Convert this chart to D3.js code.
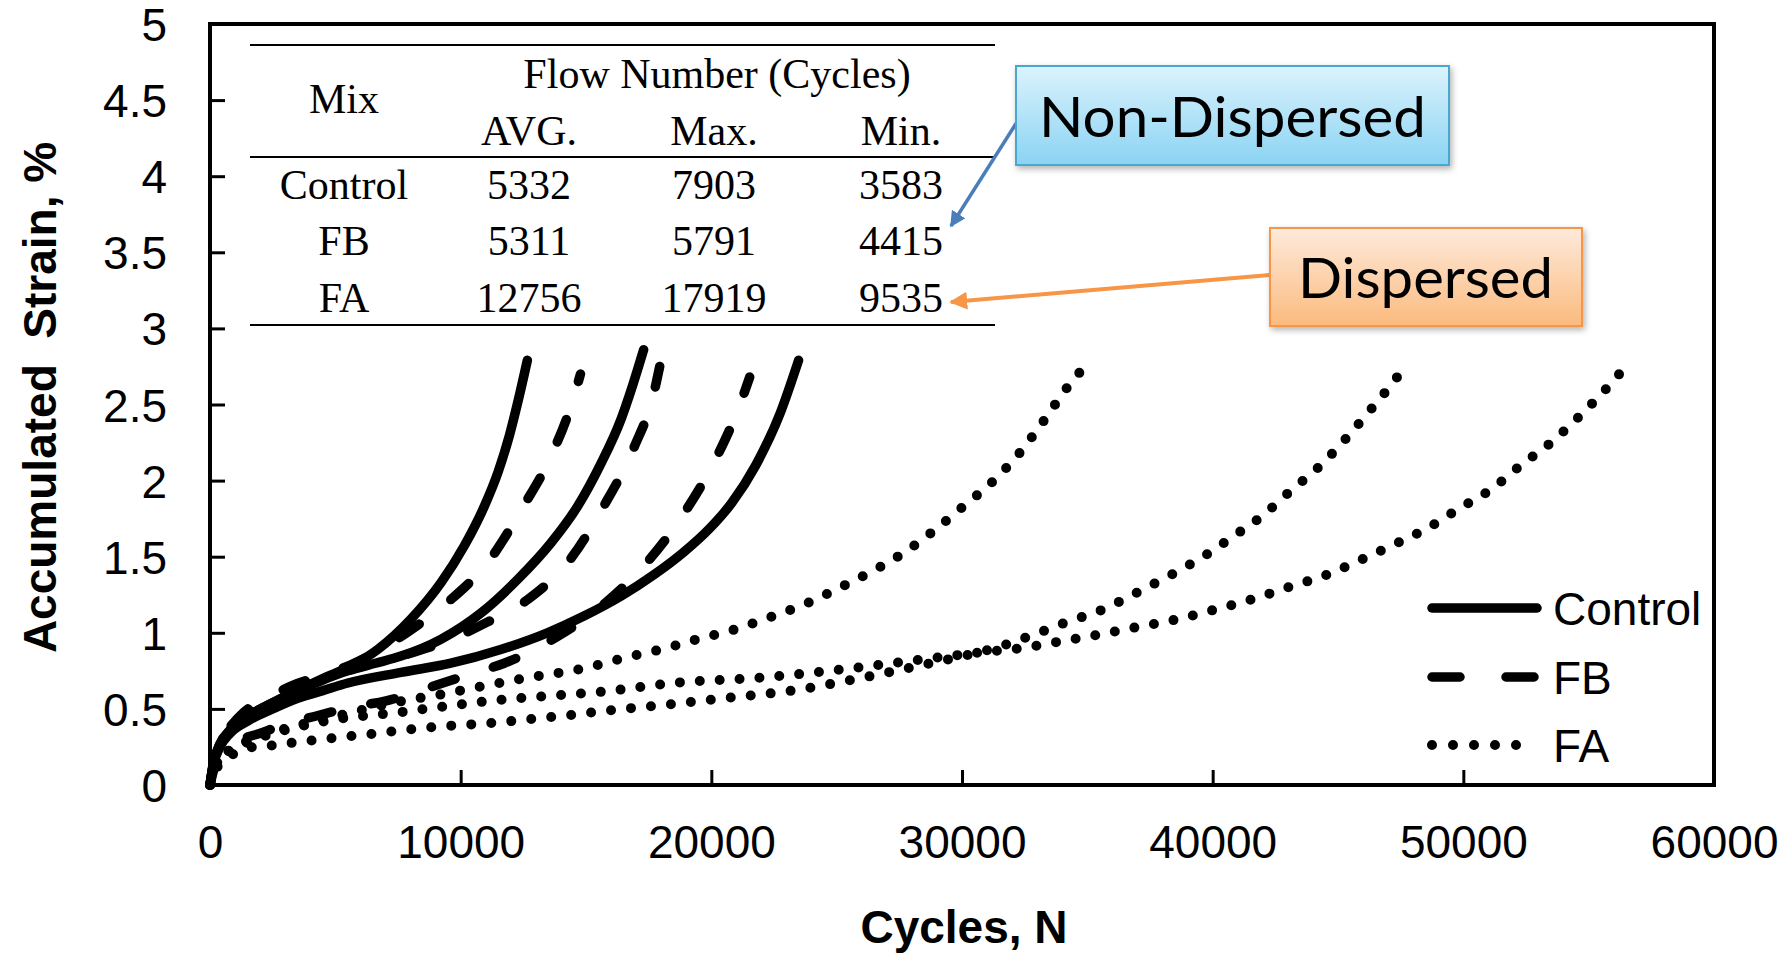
<!DOCTYPE html>
<html>
<head>
<meta charset="utf-8">
<script src="https://cdn.jsdelivr.net/npm/d3@7"></script>
<style>
  html, body { margin: 0; padding: 0; background: #fff; }
  svg { display: block; }
</style>
</head>
<body>
<svg id="chart" width="1792" height="957"></svg>
<script>
// Accumulated permanent strain vs. load cycles for three replicate specimens per mix.
// Each series is a list of [cycles N, accumulated strain %].
const control1 = [[0,0],[150,0.15],[400,0.27],[800,0.36],[1500,0.45],[2500,0.54],[3500,0.62],[4500,0.7],[5620,0.78],[6690,0.89],[8020,1.09],[9220,1.33],[10140,1.57],[10940,1.83],[11500,2.06],[11950,2.3],[12300,2.53],[12660,2.79]];
const control2 = [[0,0],[150,0.15],[400,0.27],[800,0.36],[1500,0.45],[2500,0.54],[3500,0.62],[4500,0.69],[5500,0.75],[6600,0.8],[7620,0.847],[9210,0.957],[10810,1.13],[12270,1.35],[13600,1.59],[14660,1.83],[15590,2.11],[16390,2.4],[16850,2.62],[17300,2.86]];
const control3 = [[0,0],[150,0.14],[400,0.25],[800,0.34],[1500,0.42],[2500,0.5],[3500,0.57],[4500,0.62],[5500,0.67],[7620,0.74],[9610,0.8],[11600,0.89],[13460,1.0],[14920,1.11],[16390,1.24],[17700,1.38],[18900,1.53],[19900,1.68],[20800,1.85],[21770,2.1],[22740,2.44],[23480,2.79]];

const fb1 = [[0,0],[150,0.16],[400,0.28],[800,0.38],[1360,0.48],[2200,0.56],[3230,0.65],[4500,0.72],[5620,0.79],[6800,0.89],[8020,1.02],[9480,1.2],[11160,1.48],[12460,1.82],[13660,2.18],[14440,2.51],[14780,2.7]];
const fb2 = [[0,0],[150,0.15],[400,0.27],[800,0.37],[1400,0.46],[2500,0.56],[3500,0.63],[4500,0.7],[5620,0.76],[7000,0.82],[7880,0.86],[9500,0.95],[11060,1.07],[12690,1.22],[14450,1.5],[15700,1.83],[16920,2.22],[17700,2.57],[17940,2.75]];
const fb3 = [[0,0],[150,0.1],[400,0.17],[960,0.27],[2100,0.345],[3000,0.4],[4160,0.45],[5600,0.51],[7020,0.553],[9410,0.677],[10400,0.73],[11740,0.8],[13800,0.97],[15800,1.2],[17470,1.47],[18970,1.8],[20230,2.16],[21120,2.49],[21530,2.68]];

const fa1 = [[0,0],[100,0.08],[300,0.15],[700,0.22],[1500,0.29],[3000,0.37],[5000,0.45],[6500,0.51],[7950,0.56],[9060,0.59],[10280,0.63],[12500,0.7],[15010,0.77],[16570,0.837],[17970,0.89],[19420,0.957],[20900,1.02],[22300,1.1],[23700,1.186],[25100,1.295],[26360,1.4],[27620,1.52],[28870,1.67],[30050,1.83],[31200,1.99],[32290,2.18],[33250,2.39],[34190,2.61],[34690,2.71]];
const fa2 = [[0,0],[100,0.06],[300,0.12],[900,0.2],[1570,0.245],[2360,0.258],[3160,0.275],[4760,0.306],[6350,0.334],[7950,0.365],[9540,0.389],[11140,0.406],[12730,0.432],[14330,0.459],[15920,0.49],[18390,0.531],[20770,0.575],[23140,0.618],[25380,0.683],[27620,0.76],[29160,0.815],[31310,0.9],[32740,0.98],[34180,1.07],[35570,1.15],[36930,1.26],[38330,1.38],[39620,1.5],[40790,1.63],[41990,1.77],[43090,1.93],[44240,2.09],[45340,2.28],[46350,2.475],[46830,2.57],[47360,2.68]];
const fa3 = [[0,0],[100,0.08],[300,0.14],[700,0.21],[1500,0.28],[3000,0.36],[4950,0.43],[7480,0.476],[9010,0.509],[10610,0.542],[12270,0.57],[13930,0.59],[15460,0.61],[18670,0.673],[22020,0.706],[25240,0.76],[28460,0.826],[30690,0.87],[32380,0.9],[34000,0.946],[35500,0.99],[37060,1.04],[38620,1.09],[40100,1.153],[41560,1.22],[43040,1.3],[44530,1.38],[45870,1.476],[47240,1.58],[48600,1.69],[49870,1.82],[51090,1.94],[52290,2.1],[53460,2.245],[54550,2.41],[55160,2.51],[55740,2.61],[56220,2.7]];

// Axis ticks
const xTicks = [0, 10000, 20000, 30000, 40000, 50000, 60000];
const yTicks = [0, 0.5, 1, 1.5, 2, 2.5, 3, 3.5, 4, 4.5, 5];

// Flow number summary table
const tableMixes = ["Control", "FB", "FA"];
const avgFN = [5332, 5311, 12756];
const maxFN = [7903, 5791, 17919];
const minFN = [3583, 4415, 9535];
const tableCols = ["AVG.", "Max.", "Min."];

// Legend entries
const legendNames = ["Control", "FB", "FA"];

// ---------------------------------------------------------------
const svg = d3.select("#chart");
const plotLeft = 210, plotRight = 1714, plotTop = 24, plotBottom = 785;
const x = d3.scaleLinear().domain([0, 60000]).range([plotLeft, plotRight]);
const y = d3.scaleLinear().domain([0, 5]).range([plotBottom, plotTop]);

const sans = "'Liberation Sans', Arial, sans-serif";
const serif = "'Liberation Serif', 'Times New Roman', serif";

const styles = {
  Control: { dash: null, width: 9.5, cap: "round", legendDash: null },
  FB: { dash: "24 40", width: 9.5, cap: "round", legendDash: "28 46" },
  FA: { dash: "0 20", width: 10, cap: "round", legendDash: "0 21" }
};

const series = [
  { mix: "Control", data: control1 }, { mix: "Control", data: control2 }, { mix: "Control", data: control3 },
  { mix: "FB", data: fb1 }, { mix: "FB", data: fb2 }, { mix: "FB", data: fb3 },
  { mix: "FA", data: fa1 }, { mix: "FA", data: fa2 }, { mix: "FA", data: fa3 }
];

// Drop shadow + gradients for the callout boxes
const defs = svg.append("defs");
const shadow = defs.append("filter").attr("id", "shadow").attr("x", "-10%").attr("y", "-10%").attr("width", "130%").attr("height", "140%");
shadow.append("feDropShadow").attr("dx", 2).attr("dy", 3).attr("stdDeviation", 3).attr("flood-color", "#000").attr("flood-opacity", 0.3);
function grad(id, c1, c2) {
  const g = defs.append("linearGradient").attr("id", id).attr("x1", 0).attr("y1", 0).attr("x2", 0).attr("y2", 1);
  g.append("stop").attr("offset", "0%").attr("stop-color", c1);
  g.append("stop").attr("offset", "100%").attr("stop-color", c2);
}
grad("blueFill", "#dcf3fc", "#8ad3f3");
grad("orangeFill", "#feeadb", "#fbba7e");
function marker(id, color) {
  defs.append("marker").attr("id", id).attr("viewBox", "0 0 10 10").attr("refX", 9).attr("refY", 5)
    .attr("markerWidth", 4.5).attr("markerHeight", 4.5).attr("orient", "auto-start-reverse")
    .attr("markerUnits", "strokeWidth")
    .append("path").attr("d", "M0,0 L10,5 L0,10 Z").attr("fill", color);
}
marker("arrowBlue", "#4a7ebb");
marker("arrowOrange", "#f79646");

// Axes with inward ticks
const xAxis = d3.axisBottom(x).tickValues(xTicks).tickFormat(d => String(d)).tickSize(-15).tickPadding(40);
const yAxis = d3.axisLeft(y).tickValues(yTicks).tickFormat(d => String(d)).tickSize(-15).tickPadding(43);

const gx = svg.append("g").attr("transform", `translate(0,${plotBottom})`).call(xAxis);
const gy = svg.append("g").attr("transform", `translate(${plotLeft},0)`).call(yAxis);
[gx, gy].forEach(g => {
  g.select(".domain").remove();
  g.selectAll(".tick line").attr("stroke", "#000").attr("stroke-width", 3);
  g.selectAll(".tick text").attr("fill", "#000").style("font-family", sans).style("font-size", "46px");
});
gy.selectAll(".tick text").attr("dy", "0.36em");

// Curves
const line = d3.line().x(d => x(d[0])).y(d => y(d[1])).curve(d3.curveMonotoneX);
svg.append("g").selectAll("path").data(series).join("path")
  .attr("d", d => line(d.data))
  .attr("fill", "none")
  .attr("stroke", "#000")
  .attr("stroke-width", d => styles[d.mix].width)
  .attr("stroke-linecap", d => styles[d.mix].cap)
  .attr("stroke-linejoin", "round")
  .attr("stroke-dasharray", d => styles[d.mix].dash)
  .each(function (d) {
    // Round-dot series: spread the dot spacing so a dot lands on both ends of the curve
    if (d.mix === "FA") {
      const len = this.getTotalLength();
      const n = Math.max(1, Math.round(len / 20));
      d3.select(this).attr("stroke-dasharray", `0 ${(len - 0.5) / n}`);
    }
  });

// Plot frame
svg.append("rect").attr("x", plotLeft).attr("y", plotTop).attr("width", plotRight - plotLeft).attr("height", plotBottom - plotTop)
  .attr("fill", "none").attr("stroke", "#000").attr("stroke-width", 4);

// Axis titles
svg.append("text").attr("x", (plotLeft + plotRight) / 2 + 2).attr("y", 943).attr("text-anchor", "middle")
  .style("font-family", sans).style("font-size", "46px").style("font-weight", "bold").text("Cycles, N");
svg.append("text").attr("transform", `translate(56,${(plotTop + plotBottom) / 2 - 7}) rotate(-90)`).attr("text-anchor", "middle")
  .style("font-family", sans).style("font-size", "46px").style("font-weight", "bold").text("Accumulated\u00a0 Strain, %");

// Flow number table
const tbl = svg.append("g").style("font-family", serif).style("font-size", "42px").attr("fill", "#000");
const colX = [344, 529, 714, 901];
[45, 157, 325].forEach(yy => tbl.append("line").attr("x1", 250).attr("x2", 995).attr("y1", yy).attr("y2", yy)
  .attr("stroke", "#000").attr("stroke-width", 2));
tbl.append("text").attr("x", 717).attr("y", 88).attr("text-anchor", "middle").text("Flow Number (Cycles)");
tbl.append("text").attr("x", colX[0]).attr("y", 113).attr("text-anchor", "middle").text("Mix");
tableCols.forEach((c, i) => tbl.append("text").attr("x", colX[i + 1]).attr("y", 145).attr("text-anchor", "middle").text(c));
const rowY = [199, 255, 312];
tableMixes.forEach((m, i) => {
  tbl.append("text").attr("x", colX[0]).attr("y", rowY[i]).attr("text-anchor", "middle").text(m);
  [avgFN[i], maxFN[i], minFN[i]].forEach((v, j) =>
    tbl.append("text").attr("x", colX[j + 1]).attr("y", rowY[i]).attr("text-anchor", "middle").text(v));
});

// Callouts
const callFont = "Lato, 'Open Sans', sans-serif";
svg.append("line").attr("x1", 1017).attr("y1", 122).attr("x2", 951).attr("y2", 226)
  .attr("stroke", "#4a7ebb").attr("stroke-width", 3.5).attr("marker-end", "url(#arrowBlue)");
svg.append("line").attr("x1", 1270).attr("y1", 275).attr("x2", 951).attr("y2", 302)
  .attr("stroke", "#f79646").attr("stroke-width", 4).attr("marker-end", "url(#arrowOrange)");

svg.append("rect").attr("x", 1016).attr("y", 66).attr("width", 433).attr("height", 99)
  .attr("fill", "url(#blueFill)").attr("stroke", "#46a9cf").attr("stroke-width", 2).attr("filter", "url(#shadow)");
svg.append("text").attr("x", 1039).attr("y", 137).attr("textLength", 387).attr("lengthAdjust", "spacingAndGlyphs")
  .style("font-family", callFont).style("font-size", "57px").attr("fill", "#000").text("Non-Dispersed");

svg.append("rect").attr("x", 1270).attr("y", 228).attr("width", 312).attr("height", 98)
  .attr("fill", "url(#orangeFill)").attr("stroke", "#f79646").attr("stroke-width", 2).attr("filter", "url(#shadow)");
svg.append("text").attr("x", 1298).attr("y", 298).attr("textLength", 255).attr("lengthAdjust", "spacingAndGlyphs")
  .style("font-family", callFont).style("font-size", "57px").attr("fill", "#000").text("Dispersed");

// Legend
const legY = [608, 677, 745];
const leg = svg.append("g");
legendNames.forEach((name, i) => {
  const st = styles[name];
  leg.append("line").attr("x1", 1432).attr("x2", 1537).attr("y1", legY[i]).attr("y2", legY[i])
    .attr("stroke", "#000").attr("stroke-width", st.width).attr("stroke-linecap", st.cap)
    .attr("stroke-dasharray", st.legendDash);
  leg.append("text").attr("x", 1553).attr("y", legY[i] + 17).style("font-family", sans).style("font-size", "46px")
    .attr("fill", "#000").text(name);
});
</script>
</body>
</html>
